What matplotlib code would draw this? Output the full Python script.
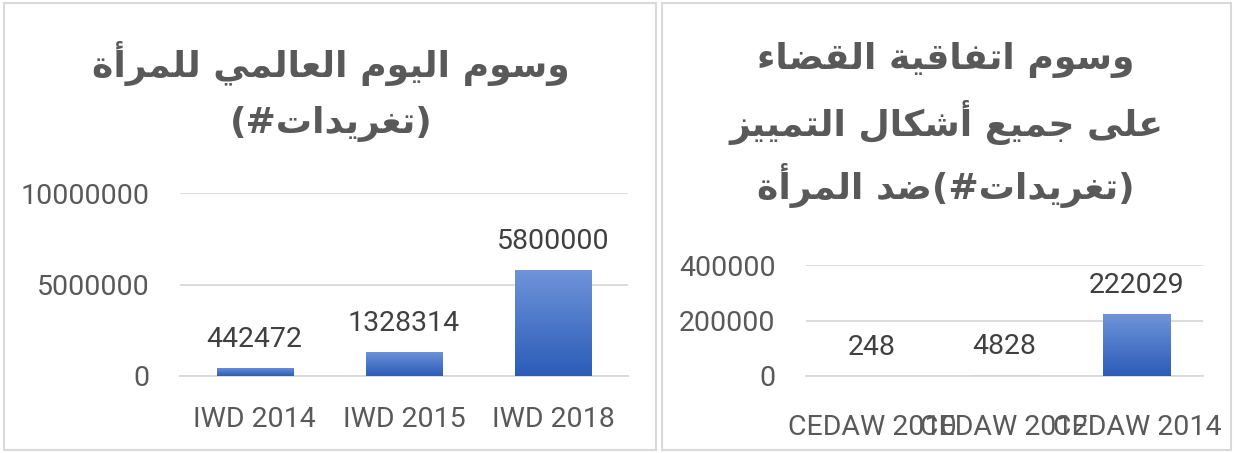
import matplotlib
matplotlib.use("Agg")
import matplotlib.pyplot as plt
import numpy as np
from matplotlib.patches import Rectangle
from matplotlib.ticker import FuncFormatter

# ---------------- data ----------------
left_title = ["وسوم اليوم العالمي للمرأة", "(تغريدات#)"]
left_categories = ["IWD 2014", "IWD 2015", "IWD 2018"]
left_values = [442472, 1328314, 5800000]
left_ticks = [0, 5000000, 10000000]

right_title = ["وسوم اتفاقية القضاء", "على جميع أشكال التمييز", "(تغريدات#)ضد المرأة"]
right_categories = ["CEDAW 2010", "CEDAW 2012", "CEDAW 2014"]
right_values = [248, 4828, 222029]
right_ticks = [0, 200000, 400000]

# ---------------- simple Arabic shaping (presentation forms) + RTL ordering ----------------
_FORMS = {
    '\u0621': (0xFE80, 1), '\u0622': (0xFE81, 2), '\u0623': (0xFE83, 2), '\u0624': (0xFE85, 2),
    '\u0625': (0xFE87, 2), '\u0626': (0xFE89, 4), '\u0627': (0xFE8D, 2), '\u0628': (0xFE8F, 4),
    '\u0629': (0xFE93, 2), '\u062A': (0xFE95, 4), '\u062B': (0xFE99, 4), '\u062C': (0xFE9D, 4),
    '\u062D': (0xFEA1, 4), '\u062E': (0xFEA5, 4), '\u062F': (0xFEA9, 2), '\u0630': (0xFEAB, 2),
    '\u0631': (0xFEAD, 2), '\u0632': (0xFEAF, 2), '\u0633': (0xFEB1, 4), '\u0634': (0xFEB5, 4),
    '\u0635': (0xFEB9, 4), '\u0636': (0xFEBD, 4), '\u0637': (0xFEC1, 4), '\u0638': (0xFEC5, 4),
    '\u0639': (0xFEC9, 4), '\u063A': (0xFECD, 4), '\u0641': (0xFED1, 4), '\u0642': (0xFED5, 4),
    '\u0643': (0xFED9, 4), '\u0644': (0xFEDD, 4), '\u0645': (0xFEE1, 4), '\u0646': (0xFEE5, 4),
    '\u0647': (0xFEE9, 4), '\u0648': (0xFEED, 2), '\u0649': (0xFEEF, 2), '\u064A': (0xFEF1, 4),
}
_LAMALEF = {'\u0622': 0xFEF5, '\u0623': 0xFEF7, '\u0625': 0xFEF9, '\u0627': 0xFEFB}


def _joins_next(c):
    return c in _FORMS and _FORMS[c][1] == 4


def _accepts_prev(c):
    return c in _FORMS and _FORMS[c][1] >= 2


def shape_rtl(s):
    out = []
    i = 0
    n = len(s)
    while i < n:
        c = s[i]
        prev = s[i - 1] if i > 0 else ''
        nxt = s[i + 1] if i + 1 < n else ''
        pj = _joins_next(prev)
        if c == '\u0644' and nxt in _LAMALEF:
            out.append(chr(_LAMALEF[nxt] + (1 if pj else 0)))
            i += 2
            continue
        if c in _FORMS:
            base, k = _FORMS[c]
            nj = k == 4 and _accepts_prev(nxt)
            if k == 1:
                out.append(chr(base))
            elif k == 2:
                out.append(chr(base + (1 if pj else 0)))
            else:
                if pj and nj:
                    out.append(chr(base + 3))
                elif pj:
                    out.append(chr(base + 1))
                elif nj:
                    out.append(chr(base + 2))
                else:
                    out.append(chr(base))
        else:
            out.append(c)
        i += 1
    mirror = {'(': ')', ')': '('}
    return ''.join(mirror.get(ch, ch) for ch in reversed(out))


# ---------------- figure ----------------
W, H = 1234, 453
fig = plt.figure(figsize=(W / 100, H / 100), dpi=100)
fig.patch.set_facecolor('white')

NUM_FONT = ['Roboto', 'DejaVu Sans']
TICK_COLOR = '#595959'
LABEL_COLOR = '#404040'
GRID_COLOR = '#d9d9d9'


def px_box(x0, y0, x1, y1):
    """pixel box (top-left origin) -> figure fraction [l, b, w, h]"""
    return [x0 / W, (H - y1) / H, (x1 - x0) / W, (y1 - y0) / H]


# panel frames
for (x0, x1) in [(4, 656), (662, 1231)]:
    fig.patches.append(Rectangle((x0 / W, 3 / H), (x1 - x0) / W, (H - 6) / H,
                                 transform=fig.transFigure, fill=False,
                                 edgecolor='#d9d9d9', linewidth=1.5))

top_c = np.array([0x6e, 0x94, 0xda]) / 255
bot_c = np.array([0x2c, 0x5c, 0xb8]) / 255
grad = np.linspace(0, 1, 256)[:, None, None]
grad_img = top_c * (1 - grad) + bot_c * grad  # row 0 = top


def draw_panel(box, cats, vals, ticks, xlab_pad):
    ax = fig.add_axes(px_box(*box))
    x = np.arange(len(cats))
    bars = ax.bar(x, vals, width=0.51, color='#8fabe0', zorder=2)
    ax.set_xlim(-0.5, len(cats) - 0.5)
    ax.set_ylim(ticks[0], ticks[-1])
    for b in bars:
        bx, by = b.get_x(), b.get_y()
        bw, bh = b.get_width(), b.get_height()
        if bh < 0.02 * (ticks[-1] - ticks[0]):
            continue  # hair-thin bar: keep plain light fill
        im = ax.imshow(grad_img, extent=(bx, bx + bw, by, by + bh), origin='upper',
                       aspect='auto', zorder=3, interpolation='bilinear')
        im.set_clip_path(b)
    ax.set_aspect('auto')
    ax.set_yticks(ticks)
    ax.yaxis.set_major_formatter(FuncFormatter(lambda v, p: f"{int(v)}"))
    ax.set_xticks(x)
    ax.set_xticklabels(cats)
    ax.grid(axis='y', color=GRID_COLOR, linewidth=1.3, zorder=0)
    ax.set_axisbelow(True)
    for s in ['top', 'right', 'left']:
        ax.spines[s].set_visible(False)
    ax.spines['bottom'].set_color(GRID_COLOR)
    ax.spines['bottom'].set_linewidth(1.3)
    ax.tick_params(axis='both', length=0, colors=TICK_COLOR, labelsize=20.5)
    ax.tick_params(axis='y', pad=22)
    ax.tick_params(axis='x', pad=xlab_pad)
    for lab in ax.get_xticklabels() + ax.get_yticklabels():
        lab.set_fontfamily(NUM_FONT)
    for xi, v in zip(x, vals):
        ax.annotate(f"{v}", xy=(xi, v), xytext=(0, 20.5), textcoords='offset points',
                    ha='center', va='center', fontsize=20.5, color=LABEL_COLOR,
                    family=NUM_FONT)
    return ax


draw_panel((180, 193, 628, 376), left_categories, left_values, left_ticks, 21.5)
draw_panel((806, 265, 1203, 376), right_categories, right_values, right_ticks, 27.5)

TITLE_FONT = ['DejaVu Sans']
TITLE_COLOR = '#595959'
for i, line in enumerate(left_title):
    fig.text(331 / W, 1 - (64 + 60 * i) / H, shape_rtl(line), ha='center', va='center',
             fontsize=26, fontweight='bold', color=TITLE_COLOR, family=TITLE_FONT)
for i, line in enumerate(right_title):
    fig.text(946 / W, 1 - (60 + 62.5 * i) / H, shape_rtl(line), ha='center', va='center',
             fontsize=26, fontweight='bold', color=TITLE_COLOR, family=TITLE_FONT)

fig.savefig('out.png', dpi=100, facecolor='white')
